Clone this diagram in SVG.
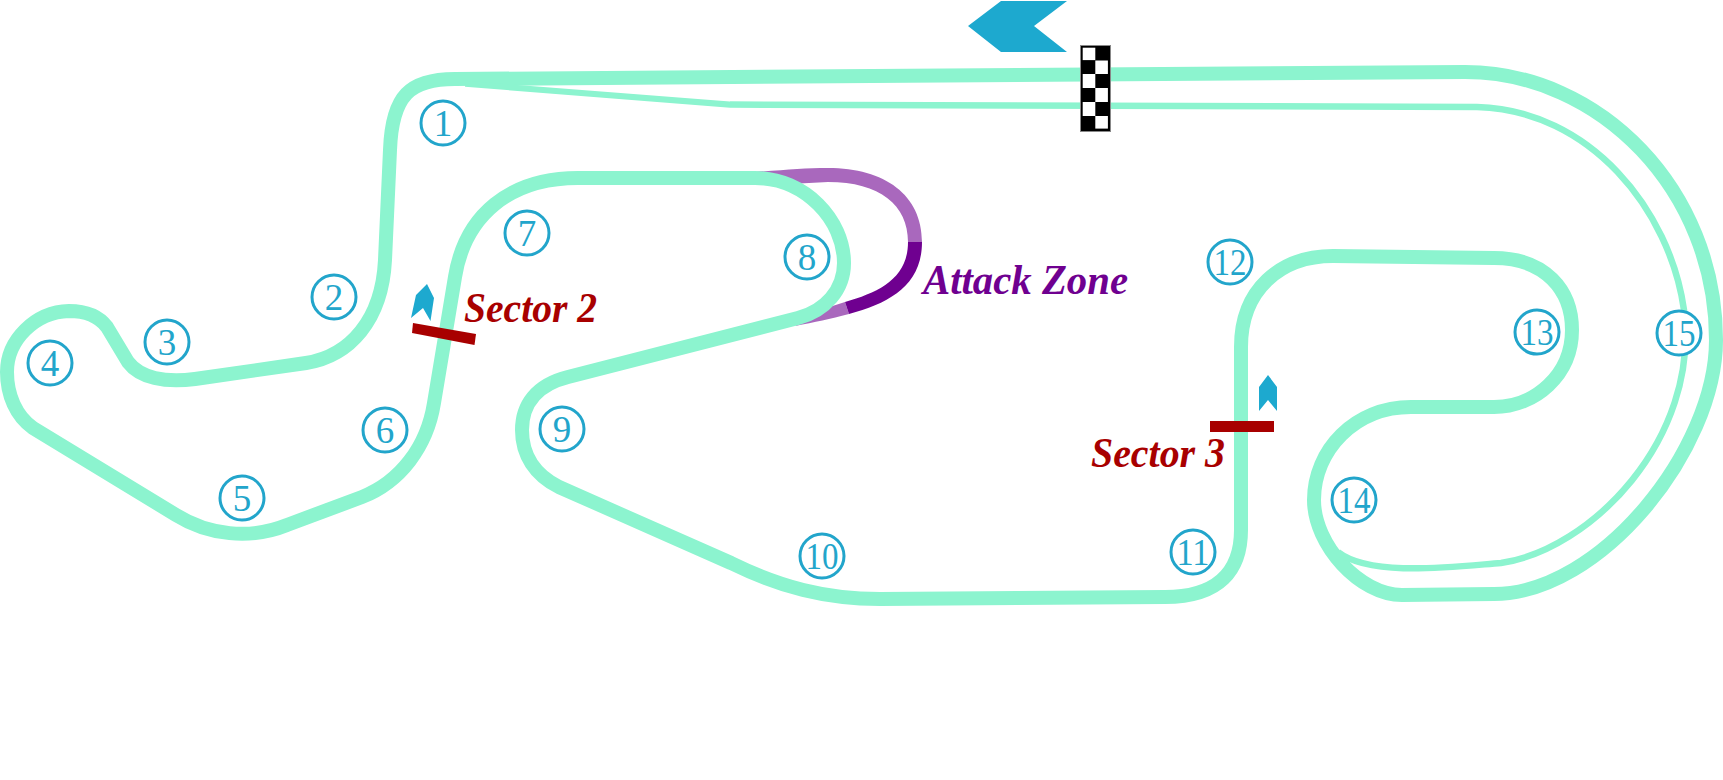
<svg xmlns="http://www.w3.org/2000/svg" width="1723" height="780" viewBox="0 0 1723 780">
<style>
.track{fill:none;stroke:#8cf4cf;stroke-width:14;stroke-linejoin:round}
.thin{fill:none;stroke:#8cf4cf;stroke-width:6.5}
.wedge{fill:#8cf4cf}
.dz{fill:#a968bd}
.az{fill:#6f0090}
.arrow{fill:#1da9cf}
.bar{fill:#a80000}
.turn circle{fill:#fff;stroke:#22a5cb;stroke-width:3}
.turn text{font-family:"Liberation Serif","Times New Roman",serif;font-size:37px;fill:#22a5cb;text-anchor:middle}
.label{font-family:"Liberation Serif","Times New Roman",serif;font-size:42px;font-weight:bold;font-style:italic}
</style>
<rect width="1723" height="780" fill="#fff"/>
<g id="connectors">
<path class="dz" d="M754 172 C785 170 805 168 828 168 C885 168 922 195 922 242 L908 242 C908 205 880 182 828 182 L790 184 Z"/>
<path class="dz" d="M845 302 L849 314 C830 319 815 322 795 326 L820 310 Z"/>
<path class="az" d="M908 242 L922 242 C922 285 890 303 849 314 L845 302 C880 292 908 278 908 242 Z"/>
<path class="track" d="M455 79 C410 79 392 95 390 150 L385 260 C382 320 350 356 306 363 L195 379 C165 383 140 378 128 362 L107 327 C98 315 85 311 69 311 C35 312 7 340 7 372 C7 395 16 416 33 428 L176 515 C208 535 250 540 287 525 L362 497 C400 482 427 447 434 403 L455 277 C465 215 510 178 578 178 L755 178 C805 178 844 220 844 263 C844 290 825 311 798 318 L568 377 C536 385 522 405 522 430 C522 455 535 475 559 487 L731 563 C780 587 825 599 880 599 L1165 597 C1220 597 1241 570 1241 530 L1241 347 C1241 290 1280 256 1333 256 L1494 258 C1545 258 1572 290 1572 330 C1572 375 1535 407 1494 407 L1411 407 C1355 407 1314 450 1314 500 C1314 545 1360 595 1402 595 L1494 594 C1600 594 1716 450 1716 340 C1716 190 1600 72 1465 72 Z"/>
<polygon class="wedge" points="465,80.8 730,101.5 730,107.7 465,86.8"/>
<path class="thin" d="M730 104.6 L1477 107 C1590 110 1670 210 1684 310 C1700 440 1590 550 1501 563 C1450 567 1370 577 1338 552"/>
</g>
<g id="flag">
<rect x="1080.5" y="45.5" width="30" height="86" fill="#000" stroke="#888" stroke-width="1"/>
<g fill="#fff">
<rect x="1082.7" y="47.7" width="12.6" height="12.4"/>
<rect x="1095.3" y="60.5" width="12.6" height="13.5"/>
<rect x="1082.7" y="74" width="12.6" height="14"/>
<rect x="1095.3" y="88" width="12.6" height="14"/>
<rect x="1082.7" y="102" width="12.6" height="14"/>
<rect x="1095.3" y="116" width="12.6" height="12.6"/>
</g>
</g>
<g id="start-arrow"><polygon class="arrow" points="968,26 1001,1 1067,1 1034,26 1067,52 1001,52"/></g>
<g id="sector-2">
<polygon class="arrow" points="427,284 434,298 430.5,321 423,308 411,318 416,295"/>
<polygon class="bar" points="413,323 476,334 474.5,345 412,333"/>
<text class="label" x="464" y="322" fill="#a80000" textLength="133" lengthAdjust="spacingAndGlyphs">Sector 2</text>
</g>
<g id="sector-3">
<polygon class="arrow" points="1268,375 1277,387 1277,411 1268,400 1259,411 1259,387"/>
<rect class="bar" x="1210" y="421" width="64" height="11"/>
<text class="label" x="1091" y="467" fill="#a80000" textLength="134" lengthAdjust="spacingAndGlyphs">Sector 3</text>
</g>
<g id="attack-zone"><text class="label" x="923" y="294" fill="#6f0090" textLength="205" lengthAdjust="spacingAndGlyphs">Attack Zone</text></g>
<g id="t1" class="turn"><circle cx="443" cy="123" r="22"/><text x="443" y="136">1</text></g>
<g id="t2" class="turn"><circle cx="334" cy="297" r="22"/><text x="334" y="310">2</text></g>
<g id="t3" class="turn"><circle cx="167" cy="342" r="22"/><text x="167" y="355">3</text></g>
<g id="t4" class="turn"><circle cx="50" cy="363" r="22"/><text x="50" y="376">4</text></g>
<g id="t5" class="turn"><circle cx="242" cy="498" r="22"/><text x="242" y="511">5</text></g>
<g id="t6" class="turn"><circle cx="385" cy="430" r="22"/><text x="385" y="443">6</text></g>
<g id="t7" class="turn"><circle cx="527" cy="233" r="22"/><text x="527" y="246">7</text></g>
<g id="t8" class="turn"><circle cx="807" cy="257" r="22"/><text x="807" y="270">8</text></g>
<g id="t9" class="turn"><circle cx="562" cy="429" r="22"/><text x="562" y="442">9</text></g>
<g id="t10" class="turn"><circle cx="822" cy="556" r="22"/><text x="822" y="569" textLength="33" lengthAdjust="spacingAndGlyphs">10</text></g>
<g id="t11" class="turn"><circle cx="1193" cy="552" r="22"/><text x="1193" y="565" textLength="33" lengthAdjust="spacingAndGlyphs">11</text></g>
<g id="t12" class="turn"><circle cx="1230" cy="262" r="22"/><text x="1230" y="275" textLength="33" lengthAdjust="spacingAndGlyphs">12</text></g>
<g id="t13" class="turn"><circle cx="1537" cy="332" r="22"/><text x="1537" y="345" textLength="33" lengthAdjust="spacingAndGlyphs">13</text></g>
<g id="t14" class="turn"><circle cx="1354" cy="500" r="22"/><text x="1354" y="513" textLength="33" lengthAdjust="spacingAndGlyphs">14</text></g>
<g id="t15" class="turn"><circle cx="1679" cy="333" r="22"/><text x="1679" y="346" textLength="33" lengthAdjust="spacingAndGlyphs">15</text></g>
</svg>
